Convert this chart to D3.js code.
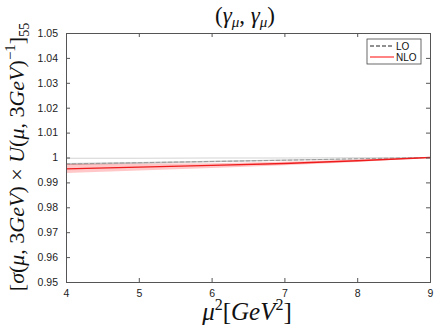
<!DOCTYPE html>
<html><head><meta charset="utf-8">
<script src="https://cdn.jsdelivr.net/npm/d3@7/dist/d3.min.js"></script>
<style>body{margin:0;background:#fff}svg{display:block}</style>
</head><body><svg id="c" width="436" height="327"></svg>
<script>
const mu2 = [4, 5, 6, 7, 8, 9];
const loCentral = [0.9974, 0.9979, 0.9984, 0.9989, 0.9995, 1.0];
const loLower   = [0.9970, 0.9975, 0.9981, 0.9987, 0.9993, 1.0];
const loUpper   = [0.9978, 0.9982, 0.9987, 0.9992, 0.9996, 1.0];
const loOuter   = [0.9997, 0.9997, 0.9998, 0.9998, 0.9999, 1.0];
const nloCentral = [0.9954, 0.9961, 0.9968, 0.9976, 0.9987, 1.0];
const nloLower   = [0.9938, 0.9948, 0.9958, 0.9969, 0.9982, 1.0];
const nloUpper   = [0.9974, 0.9975, 0.9977, 0.9983, 0.9992, 1.0];
const xTicks = [4, 5, 6, 7, 8, 9];
const yTicks = [0.95, 0.96, 0.97, 0.98, 0.99, 1.0, 1.01, 1.02, 1.03, 1.04, 1.05];
const yTickLabels = ["0.95","0.96","0.97","0.98","0.99","1","1.01","1.02","1.03","1.04","1.05"];

const svg = d3.select("#c");
const L = 66, R = 430, T = 33, B = 282;
const x = d3.scaleLinear().domain([4, 9]).range([L, R]);
const y = d3.scaleLinear().domain([0.95, 1.05]).range([B, T]);
const axisColor = "#555";

const area = (lo, hi) => d3.area().x((d, i) => x(mu2[i])).y0((d, i) => y(lo[i])).y1((d, i) => y(hi[i]))(mu2);
const line = arr => d3.line().x((d, i) => x(mu2[i])).y((d, i) => y(arr[i]))(mu2);

svg.append("path").attr("d", line(loOuter)).attr("fill", "none").attr("stroke", "#d4d4d4").attr("stroke-width", 1.2);
svg.append("path").attr("d", area(loLower, loUpper)).attr("fill", "#c2c4c4");
svg.append("path").attr("d", line(loCentral)).attr("fill", "none").attr("stroke", "#9a9c9c").attr("stroke-width", 1).attr("stroke-dasharray", "4,2");
svg.append("path").attr("d", area(nloLower, nloUpper)).attr("fill", "#ff2020").attr("fill-opacity", 0.25);
svg.append("path").attr("d", line(nloCentral)).attr("fill", "none").attr("stroke", "#ee1c1c").attr("stroke-width", 1.3);

const tickFont = "Liberation Sans, Arial, sans-serif";
const gx = svg.append("g").attr("transform", `translate(0,${B})`)
  .call(d3.axisBottom(x).tickValues(xTicks).tickSize(-4).tickPadding(8).tickFormat(d3.format("d")));
const gxt = svg.append("g").attr("transform", `translate(0,${T})`)
  .call(d3.axisTop(x).tickValues(xTicks).tickSize(-4).tickFormat(""));
const gy = svg.append("g").attr("transform", `translate(${L},0)`)
  .call(d3.axisLeft(y).tickValues(yTicks).tickSize(-4).tickPadding(8).tickFormat((d, i) => yTickLabels[i]));
const gyr = svg.append("g").attr("transform", `translate(${R},0)`)
  .call(d3.axisRight(y).tickValues(yTicks).tickSize(-4).tickFormat(""));
[gx, gxt, gy, gyr].forEach(g => {
  g.attr("font-family", tickFont).attr("font-size", 10.5);
  g.select(".domain").attr("stroke", axisColor);
  g.selectAll(".tick line").attr("stroke", axisColor);
  g.selectAll("text").attr("fill", "#222");
});

const serif = "Liberation Serif, Times New Roman, serif";
const title = svg.append("text").attr("x", 245).attr("y", 23).attr("text-anchor", "middle")
  .attr("font-family", serif).attr("font-size", 23).attr("fill", "#111");
title.append("tspan").text("(");
title.append("tspan").attr("font-style", "italic").text("γ");
title.append("tspan").attr("font-style", "italic").attr("font-size", 15).attr("dy", 4).text("μ");
title.append("tspan").attr("dy", -4).text(", ");
title.append("tspan").attr("font-style", "italic").text("γ");
title.append("tspan").attr("font-style", "italic").attr("font-size", 15).attr("dy", 4).text("μ");
title.append("tspan").attr("dy", -4).text(")");

const xl = svg.append("text").attr("x", 247).attr("y", 320).attr("text-anchor", "middle")
  .attr("font-family", serif).attr("font-size", 25).attr("fill", "#111");
xl.append("tspan").attr("font-style", "italic").text("μ");
xl.append("tspan").attr("font-size", 16).attr("dy", -10).text("2");
xl.append("tspan").attr("dy", 10).text("[");
xl.append("tspan").attr("font-style", "italic").text("GeV");
xl.append("tspan").attr("font-size", 16).attr("dy", -10).text("2");
xl.append("tspan").attr("dy", 10).text("]");

const yl = svg.append("text").attr("transform", "translate(24,157) rotate(-90)").attr("text-anchor", "middle")
  .attr("font-family", serif).attr("font-size", 22).attr("fill", "#111");
yl.append("tspan").text("[");
yl.append("tspan").attr("font-style", "italic").text("σ");
yl.append("tspan").text("(");
yl.append("tspan").attr("font-style", "italic").text("μ");
yl.append("tspan").text(", 3");
yl.append("tspan").attr("font-style", "italic").text("GeV");
yl.append("tspan").text(") × ");
yl.append("tspan").attr("font-style", "italic").text("U");
yl.append("tspan").text("(");
yl.append("tspan").attr("font-style", "italic").text("μ");
yl.append("tspan").text(", 3");
yl.append("tspan").attr("font-style", "italic").text("GeV");
yl.append("tspan").text(")");
yl.append("tspan").attr("font-size", 15).attr("dy", -9).text("−1");
yl.append("tspan").attr("dy", 9).text("]");
yl.append("tspan").attr("font-size", 14).attr("dy", 5).text("55");

const lg = svg.append("g").attr("transform", "translate(367,39)");
lg.append("rect").attr("width", 54).attr("height", 25).attr("fill", "#fff").attr("stroke", "#444").attr("stroke-width", 0.8);
const legendNames = ["LO", "NLO"];
const legendColors = ["#222", "#ff3030"];
const legendDash = ["4,2", null];
legendNames.forEach((n, i) => {
  const yy = 7 + i * 11;
  lg.append("line").attr("x1", 3).attr("x2", 27).attr("y1", yy).attr("y2", yy)
    .attr("stroke", legendColors[i]).attr("stroke-width", 1.2).attr("stroke-dasharray", legendDash[i]);
  lg.append("text").attr("x", 29).attr("y", yy + 3.5).attr("font-family", tickFont)
    .attr("font-size", 10).attr("fill", "#111").text(n);
});
</script></body></html>
